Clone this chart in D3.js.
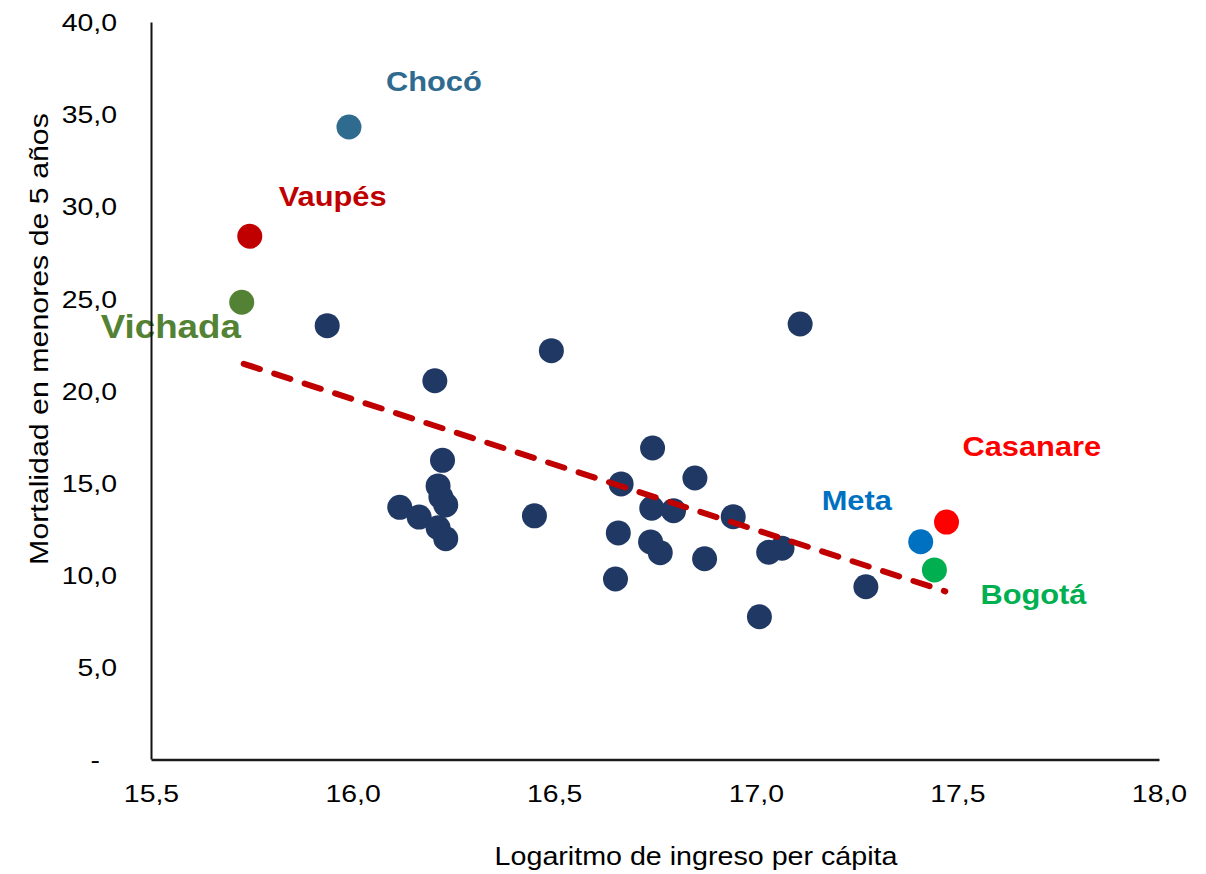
<!DOCTYPE html>
<html>
<head>
<meta charset="utf-8">
<script src="https://cdn.jsdelivr.net/npm/d3@7"></script>
<style>
  html, body { margin: 0; padding: 0; background: #fff; }
  svg { display: block; font-family: "Liberation Sans", Arial, sans-serif; }
</style>
</head>
<body>
<svg id="chart" width="1206" height="874"></svg>
<script>
// ---- data ----
const incomeLog = [17.11, 16.493, 16.204, 16.223, 16.212, 16.219, 16.231, 16.117, 16.165, 16.212,
                   16.231, 16.451, 16.666, 16.744, 16.742, 16.796, 16.849, 16.944, 16.659, 16.739,
                   16.763, 16.873, 16.652, 17.032, 17.065, 17.009, 17.273, 15.937];
const mortality = [23.61, 22.16, 20.53, 16.21, 14.82, 14.22, 13.79, 13.66, 13.13, 12.55,
                   11.96, 13.20, 14.93, 16.88, 13.61, 13.48, 15.25, 13.15, 12.27, 11.78,
                   11.20, 10.87, 9.77, 11.22, 11.44, 7.72, 9.35, 23.52];
const highlightNames = ["Chocó", "Vaupés", "Vichada", "Meta", "Casanare", "Bogotá"];
const highlightIncome = [15.991, 15.745, 15.725, 17.409, 17.473, 17.443];
const highlightMortality = [34.30, 28.37, 24.79, 11.79, 12.86, 10.26];
const trendX = [15.73, 17.47];
const trendY = [21.45, 9.10];
const xTicks = [15.5, 16.0, 16.5, 17.0, 17.5, 18.0];
const xTickLabels = ["15,5", "16,0", "16,5", "17,0", "17,5", "18,0"];
const yTicks = [0, 5, 10, 15, 20, 25, 30, 35, 40];
const yTickLabels = ["-", "5,0", "10,0", "15,0", "20,0", "25,0", "30,0", "35,0", "40,0"];
const xTitle = "Logaritmo de ingreso per cápita";
const yTitle = "Mortalidad en menores de 5 años";

// ---- styles / layout ----
const navy = "#203864";
const labelColors = {"Chocó": "#2E6B8F", "Vaupés": "#C00000", "Vichada": "#548235",
                     "Meta": "#0070C0", "Casanare": "#FF0000", "Bogotá": "#00B050"};
const labelOffsets = {"Chocó": [37, -36], "Vaupés": [29, -30], "Vichada": [-141, 36],
                      "Meta": [-99, -32], "Casanare": [16, -66], "Bogotá": [46, 34]};
const labelSizes = {"Vichada": [32.5, 1.13]};
const defaultLabelSize = [28, 1.1];
const tickFont = 24.5, tickSx = 1.16;

const svg = d3.select("#chart");
svg.append("rect").attr("width", 1206).attr("height", 874).attr("fill", "#fff");

const x = d3.scaleLinear().domain([15.5, 18.0]).range([151, 1159]);
const y = d3.scaleLinear().domain([0, 40]).range([759, 22]);

// navy points
svg.append("g").selectAll("circle")
  .data(incomeLog.map((v, i) => [v, mortality[i]]))
  .join("circle")
  .attr("cx", d => x(d[0])).attr("cy", d => y(d[1]))
  .attr("r", 12.5).attr("fill", navy);

// highlighted points
const hl = highlightNames.map((n, i) => ({name: n, xv: highlightIncome[i], yv: highlightMortality[i]}));
svg.append("g").selectAll("circle")
  .data(hl).join("circle")
  .attr("cx", d => x(d.xv)).attr("cy", d => y(d.yv))
  .attr("r", 12.5).attr("fill", d => labelColors[d.name]);

// trend line
svg.append("path")
  .datum(trendX.map((v, i) => [v, trendY[i]]))
  .attr("d", d3.line().x(d => x(d[0])).y(d => y(d[1])))
  .attr("fill", "none").attr("stroke", "#C00000").attr("stroke-width", 6)
  .attr("stroke-linecap", "round").attr("stroke-dasharray", "17 15");

// labels
svg.append("g").selectAll("text")
  .data(hl).join("text")
  .attr("transform", d => {
    const o = labelOffsets[d.name];
    const s = labelSizes[d.name] || defaultLabelSize;
    return `translate(${x(d.xv) + o[0]},${y(d.yv) + o[1]}) scale(${s[1]},1)`;
  })
  .attr("font-size", d => (labelSizes[d.name] || defaultLabelSize)[0])
  .attr("font-weight", "bold")
  .attr("fill", d => labelColors[d.name])
  .text(d => d.name);

// axes
const yAxis = d3.axisLeft(y).tickValues(yTicks)
  .tickFormat((d, i) => yTickLabels[i]).tickSize(0).tickSizeOuter(0);
const gy = svg.append("g").attr("transform", "translate(151,0)").call(yAxis);
gy.select(".domain").attr("stroke", "#111").attr("stroke-width", 2);
gy.selectAll("text")
  .attr("font-size", tickFont).attr("fill", "#000")
  .attr("font-family", "'Liberation Sans', Arial, sans-serif")
  .attr("x", d => (d === 0 ? -51 : -34) / tickSx)
  .attr("dy", "0.355em")
  .attr("transform", `scale(${tickSx},1)`);

const xAxis = d3.axisBottom(x).tickValues(xTicks)
  .tickFormat((d, i) => xTickLabels[i]).tickSize(0).tickSizeOuter(0);
const gx = svg.append("g").attr("transform", "translate(0,759.5)").call(xAxis);
gx.select(".domain").attr("stroke", "#1a1a1a").attr("stroke-width", 2.5);
gx.selectAll("text")
  .attr("font-size", tickFont).attr("fill", "#000")
  .attr("font-family", "'Liberation Sans', Arial, sans-serif")
  .attr("y", 42.5).attr("dy", 0)
  .attr("transform", `scale(${tickSx},1)`);

// axis titles
svg.append("text")
  .attr("transform", "translate(696,865) scale(1.124,1)")
  .attr("text-anchor", "middle").attr("font-size", 25.5).attr("fill", "#000")
  .text(xTitle);
svg.append("text")
  .attr("transform", "translate(48,339) rotate(-90) scale(1.145,1)")
  .attr("text-anchor", "middle").attr("font-size", 26.5).attr("fill", "#000")
  .text(yTitle);
</script>
</body>
</html>
